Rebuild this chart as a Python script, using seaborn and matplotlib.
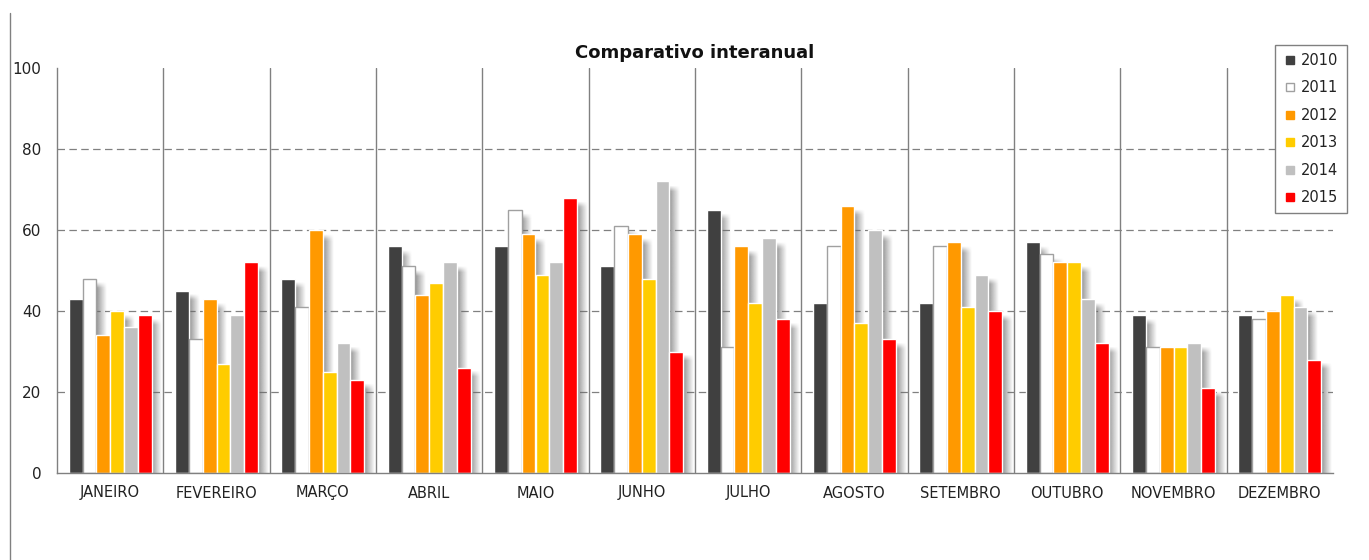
import numpy as np
import pandas as pd
import matplotlib
matplotlib.use("Agg")
import matplotlib.pyplot as plt
from matplotlib.lines import Line2D
import seaborn as sns

# Monthly values per year
months = ["JANEIRO", "FEVEREIRO", "MARÇO", "ABRIL", "MAIO", "JUNHO",
          "JULHO", "AGOSTO", "SETEMBRO", "OUTUBRO", "NOVEMBRO", "DEZEMBRO"]
years = ["2010", "2011", "2012", "2013", "2014", "2015"]
v2010 = [43, 45, 48, 56, 56, 51, 65, 42, 42, 57, 39, 39]
v2011 = [48, 33, 41, 51, 65, 61, 31, 56, 56, 54, 31, 38]
v2012 = [34, 43, 60, 44, 59, 59, 56, 66, 57, 52, 31, 40]
v2013 = [40, 27, 25, 47, 49, 48, 42, 37, 41, 52, 31, 44]
v2014 = [36, 39, 32, 52, 52, 72, 58, 60, 49, 43, 32, 41]
v2015 = [39, 52, 23, 26, 68, 30, 38, 33, 40, 32, 21, 28]
yticks = [0, 20, 40, 60, 80, 100]

series = [v2010, v2011, v2012, v2013, v2014, v2015]
colors = ["#404040", "#ffffff", "#ff9900", "#ffcc00", "#c0c0c0", "#ff0000"]
palette = dict(zip(years, colors))

df = pd.DataFrame({
    "mes": [m for _ in years for m in months],
    "ano": [y for y in years for _ in months],
    "valor": [v for s in series for v in s],
})

sns.set_style("white")
plt.rcParams["font.family"] = ["DejaVu Sans"]

W, H = 1369, 560
fig = plt.figure(figsize=(W / 100, H / 100), dpi=100)
ax = fig.add_axes([57 / W, 1 - 473 / H, (1333 - 57) / W, (473 - 68) / H])

grey = "#808080"

sns.barplot(data=df, x="mes", y="valor", hue="ano", order=months,
            hue_order=years, palette=palette, width=0.78, saturation=1,
            edgecolor="white", linewidth=1, legend=False, ax=ax, zorder=3)

# outline for the white 2011 bars
for bar in ax.containers[1]:
    bar.set_edgecolor("#a0a0a0")
    bar.set_linewidth(1)

# soft drop shadows behind each bar, darkest next to the bar
nx, ny = 50, 100
for cont in ax.containers:
    for bar in cont:
        x0, w, h = bar.get_x(), bar.get_width(), bar.get_height()
        if h <= 0:
            continue
        edge = x0 + w
        left, right = x0 + 0.4 * w, edge + 0.75 * w
        top = h - 0.8
        xs = np.linspace(left, right, nx)
        ax_alpha = np.where(xs <= edge, 0.7,
                            0.7 * (1 - (xs - edge) / (right - edge)))
        ys = np.linspace(0, top, ny)
        fade = np.clip((top - ys) / 1.5, 0, 1)
        img = np.zeros((ny, nx, 4))
        img[..., :3] = 0.4
        img[..., 3] = fade[:, None] * ax_alpha[None, :]
        ax.imshow(img, extent=[left, right, 0, top], origin="lower",
                  aspect="auto", interpolation="bilinear", zorder=2)

ax.set_xlim(-0.5, len(months) - 0.5)
ax.set_ylim(0, 100)
ax.set_yticks(yticks)

# category separators and dashed value gridlines
for k in range(1, len(months)):
    ax.axvline(k - 0.5, color=grey, lw=1, zorder=1)
for yv in yticks[1:-1]:
    ax.axhline(yv, color=grey, lw=0.9, ls=(0, (6, 3.5)), zorder=1)

for side in ["top", "right"]:
    ax.spines[side].set_visible(False)
for side in ["left", "bottom"]:
    ax.spines[side].set_color(grey)
    ax.spines[side].set_linewidth(1)
    ax.spines[side].set_zorder(4)

ax.set_xlabel("")
ax.set_ylabel("")
ax.set_xticks(np.arange(-0.5, len(months), 1.0), minor=True)
ax.tick_params(axis="x", which="major", length=0, pad=9, labelsize=10.5,
               labelcolor="#222222")
ax.tick_params(axis="x", which="minor", length=4, width=1, color=grey,
               direction="out")
ax.tick_params(axis="y", which="major", length=4.3, width=1, color=grey,
               direction="out", pad=7, labelsize=11, labelcolor="#222222")

ax.set_title("Comparativo interanual", fontsize=13, fontweight="bold",
             pad=7.5, color="#111111")

handles = [Line2D([], [], ls="", marker="s", markersize=5.5,
                  markerfacecolor=c,
                  markeredgecolor=("#a0a0a0" if c == "#ffffff" else c),
                  markeredgewidth=1) for c in colors]
leg = fig.legend(handles, years, loc="upper left",
                 bbox_to_anchor=(1275 / W, 1 - 45 / H),
                 bbox_transform=fig.transFigure, fontsize=10.5,
                 frameon=True, fancybox=False, edgecolor=grey,
                 framealpha=1, labelspacing=0.85, handlelength=0.9,
                 handletextpad=0.35, borderpad=0.55, borderaxespad=0)
leg.get_frame().set_linewidth(1)
for t in leg.get_texts():
    t.set_color("#222222")

# page frame line on the left
fig.add_artist(Line2D([10 / W, 10 / W], [0, 1 - 13 / H], color=grey, lw=1,
                      transform=fig.transFigure))

fig.savefig("out.png", dpi=100, facecolor="white")
